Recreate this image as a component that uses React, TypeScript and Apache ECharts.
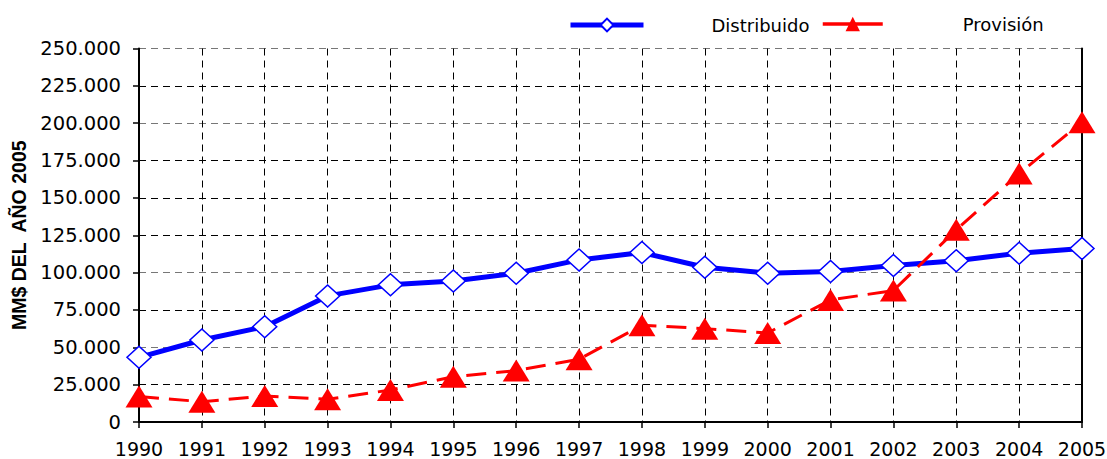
import React, { useEffect, useRef } from "react";
import * as echarts from "echarts";

const years = ["1990","1991","1992","1993","1994","1995","1996","1997","1998","1999","2000","2001","2002","2003","2004","2005"];
const distribuido = [43300, 54900, 63800, 84400, 91800, 94400, 99600, 108500, 113400, 103600, 99600, 100700, 104700, 108000, 113000, 116100];
const provision = [17000, 13600, 17400, 15200, 21400, 30300, 34400, 42000, 64800, 62500, 59600, 81700, 88000, 128600, 166300, 200700];
const gridColors = ["#000", "#000", "#777", "#000", "#777", "#000", "#000", "#000", "#777", "#000", "#777"];

const fmt = (v: number) => {
  if (v === 0) return "0";
  const s = Math.round(v).toString();
  return s.replace(/\B(?=(\d{3})+(?!\d))/g, ".");
};

export default function App() {
  const ref = useRef<HTMLDivElement>(null);
  useEffect(() => {
    if (!ref.current) return;
    const chart = echarts.init(ref.current, null, { renderer: "svg" });
    const font = "DejaVu Sans";
    chart.setOption({
      animation: false,
      backgroundColor: "#fff",
      textStyle: { fontFamily: font },
      legend: [
        {
          left: 563,
          top: 11,
          itemWidth: 73,
          itemHeight: 16,
          itemGap: 0,
          data: ["Distribuido"],
          lineStyle: { width: 5, type: "solid" },
          textStyle: { fontFamily: font, fontSize: 18, color: "#000", padding: [0, 0, 0, 63] },
        },
        {
          left: 816,
          top: 10,
          itemWidth: 60,
          itemHeight: 18,
          itemGap: 0,
          data: ["Provisión"],
          lineStyle: { width: 3.5, type: "solid" },
          textStyle: { fontFamily: font, fontSize: 18, color: "#000", padding: [0, 0, 0, 75] },
        },
      ],
      grid: { left: 139, right: 25, top: 48.5, bottom: 37, containLabel: false, outerBoundsMode: "none" },
      xAxis: {
        type: "category",
        data: years,
        boundaryGap: false,
        axisLine: { lineStyle: { color: "#000", width: 2 } },
        axisTick: { show: true, interval: 0, length: 6, lineStyle: { color: "#000", width: 1.5 } },
        axisLabel: { interval: 0, fontFamily: font, fontSize: 19, lineHeight: 18, color: "#000", margin: 18 },
        splitLine: { show: true, interval: 0, lineStyle: { color: "#000", type: [7, 5], width: 1 } },
      },
      yAxis: [
        {
          type: "value",
          min: 0,
          max: 250000,
          interval: 25000,
          name: "MM$ DEL  AÑO 2005",
          nameLocation: "middle",
          nameGap: 108,
          nameTextStyle: { fontFamily: "Liberation Sans", fontWeight: "bold", fontSize: 19.5, color: "#000" },
          axisLine: { show: true, lineStyle: { color: "#000", width: 2 } },
          axisTick: { show: true, length: 6, lineStyle: { color: "#000", width: 1.5 } },
          axisLabel: { fontFamily: font, fontSize: 19.5, color: "#000", margin: 18, formatter: fmt },
          splitLine: { show: true, lineStyle: { color: gridColors, type: [7, 5], width: 1 } },
        },
        {
          type: "value",
          position: "right",
          min: 0,
          max: 250000,
          interval: 25000,
          axisLine: { show: true, lineStyle: { color: "#000", width: 2 } },
          axisTick: { show: false },
          axisLabel: { show: false },
          splitLine: { show: false },
        },
      ],
      series: [
        {
          name: "Distribuido",
          type: "line",
          data: distribuido,
          z: 3,
          lineStyle: { color: "#0000FF", width: 5 },
          itemStyle: { color: "#fff", borderColor: "#0000FF", borderWidth: 1.5 },
          symbol: "diamond",
          symbolSize: [24, 22],
          showAllSymbol: true,
        },
        {
          name: "Provisión",
          type: "line",
          data: provision,
          z: 4,
          lineStyle: { color: "#FF0000", width: 3, type: [20, 10] },
          itemStyle: { color: "#FF0000", borderColor: "#FF0000", borderWidth: 0 },
          symbol: "triangle",
          symbolSize: [27, 22],
          showAllSymbol: true,
        },
      ],
    });
    return () => chart.dispose();
  }, []);
  return <div ref={ref} style={{ width: 1107, height: 459, position: "absolute", left: 0, top: 0 }} />;
}
